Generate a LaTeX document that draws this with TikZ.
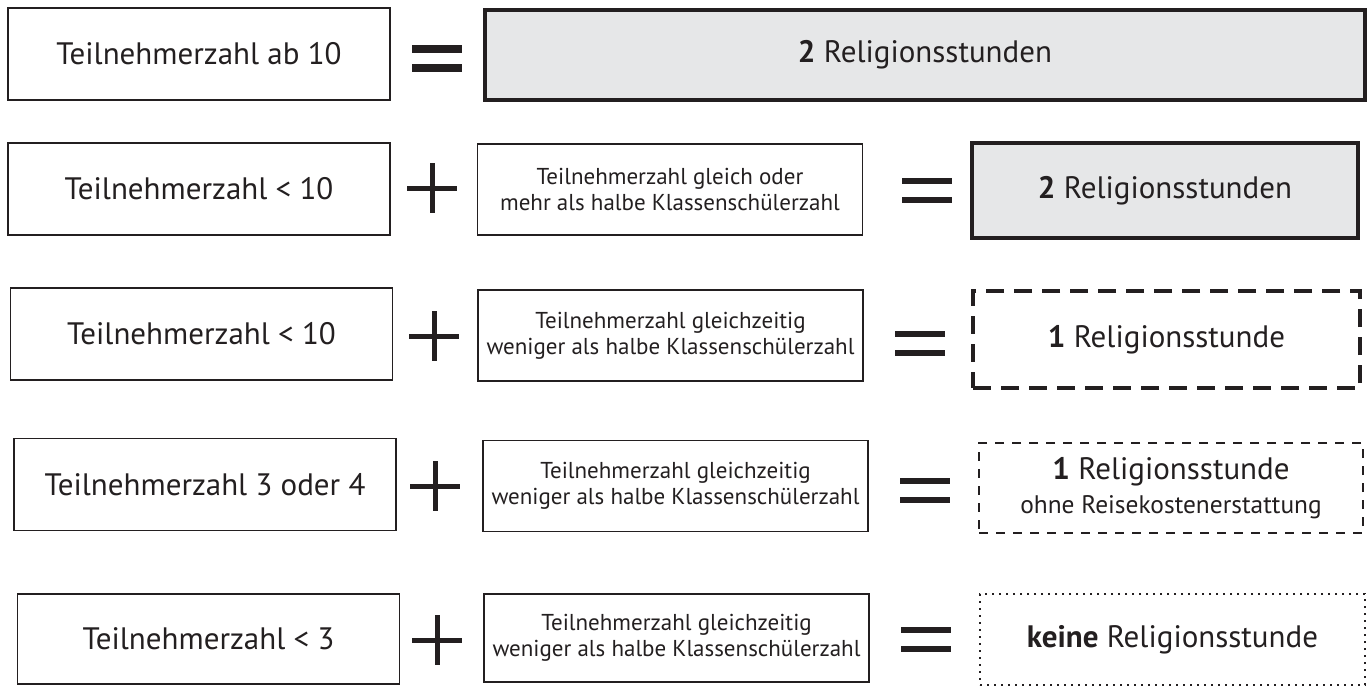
\documentclass[tikz,border=0pt]{standalone}
\usepackage{fontspec}
\setmainfont{PT Sans}
\usepackage{tikz}
\definecolor{InkBlack}{HTML}{231F20}
\definecolor{BoxGray}{HTML}{E6E7E8}
\newcommand{\BigText}{\fontsize{15.5}{18}\selectfont}
\newcommand{\SmallText}{\fontsize{11.5}{13}\selectfont}
\newcommand{\NoteText}{\fontsize{12.7}{14.5}\selectfont}
\newcommand{\EqualsAt}[2][]{%
	\draw[eqbar,#1] ($(#2)+(-25,-9.5)$) -- +(50,0) ($(#2)+(-25,9.5)$) -- +(50,0);}
\newcommand{\PlusAt}[1]{%
	\draw[plusbar] ($(#1)+(-25,0)$) -- +(50,0) ($(#1)+(0,-25)$) -- +(0,50);}
\usetikzlibrary{
	positioning,
	calc
}

\begin{document}
\begin{tikzpicture}[
		x=0.5pt, y=-0.5pt,
		framed/.style={draw=InkBlack, line width=0.75pt, text=InkBlack, align=center, inner sep=0pt},
		cond/.style={framed, font=\BigText, minimum width=191pt, minimum height=46pt},
		extra/.style={framed, font=\SmallText, minimum width=192.5pt, minimum height=45.5pt},
		strong/.style={framed, fill=BoxGray, line width=2pt, font=\BigText},
		loose/.style={framed, line width=1.75pt, dash pattern=on 9pt off 5pt, font=\BigText},
		looser/.style={framed, line width=1pt, dash pattern=on 4.5pt off 4pt, font=\BigText},
		none/.style={framed, line width=1pt, dash pattern=on 0.9pt off 2.6pt, font=\BigText},
		eqbar/.style={draw=InkBlack, line width=3pt},
		plusbar/.style={draw=InkBlack, line width=2.5pt}
	]
	\useasboundingbox (0,0) rectangle (1372,686);

	\node[cond] (cond1) at (199,54) {Teilnehmerzahl ab 10};
	\node[strong, minimum width=440pt, minimum height=45pt] (result1) at (925,55) {\textbf{2} Religionsstunden};
	\coordinate (eq1) at (437,58);
	\EqualsAt[line width=4pt]{eq1}

	\node[cond] (cond2) at (199,189) {Teilnehmerzahl < 10};
	\node[extra] (extra2) at (670,189.5) {Teilnehmerzahl gleich oder\\mehr als halbe Klassenschülerzahl};
	\node[strong, minimum width=193pt, minimum height=47.5pt] (result2) at (1165,190.5) {\textbf{2} Religionsstunden};
	\coordinate (plus2) at (432,188);
	\coordinate (eq2) at (927,190);
	\PlusAt{plus2}
	\EqualsAt{eq2}

	\node[cond] (cond3) at (201.5,334) {Teilnehmerzahl < 10};
	\node[extra] (extra3) at (670.5,335.5) {Teilnehmerzahl gleichzeitig\\weniger als halbe Klassenschülerzahl};
	\node[loose, minimum width=193.5pt, minimum height=48.5pt] (result3) at (1166.5,339.5) {\textbf{1} Religionsstunde};
	\coordinate (plus3) at (434,336);
	\coordinate (eq3) at (920,343);
	\PlusAt{plus3}
	\EqualsAt{eq3}

	\node[cond] (cond4) at (205,484.5) {Teilnehmerzahl 3 oder 4};
	\node[extra] (extra4) at (675.5,486) {Teilnehmerzahl gleichzeitig\\weniger als halbe Klassenschülerzahl};
	\node[looser, minimum width=192pt, minimum height=45pt] (result4) at (1171,488) {\textbf{1} Religionsstunde\\[-1pt]{\NoteText ohne Reisekostenerstattung}};
	\coordinate (plus4) at (435,486);
	\coordinate (eq4) at (925,490);
	\PlusAt{plus4}
	\EqualsAt{eq4}

	\node[cond, minimum height=45pt] (cond5) at (208.5,639) {Teilnehmerzahl < 3};
	\node[extra, minimum height=44pt] (extra5) at (676.5,638) {Teilnehmerzahl gleichzeitig\\weniger als halbe Klassenschülerzahl};
	\node[none, minimum width=192.5pt, minimum height=45.5pt] (result5) at (1172.5,639.5) {\textbf{keine} Religionsstunde};
	\coordinate (plus5) at (437,640);
	\coordinate (eq5) at (926,639);
	\PlusAt{plus5}
	\EqualsAt{eq5}

\end{tikzpicture}
\end{document}
